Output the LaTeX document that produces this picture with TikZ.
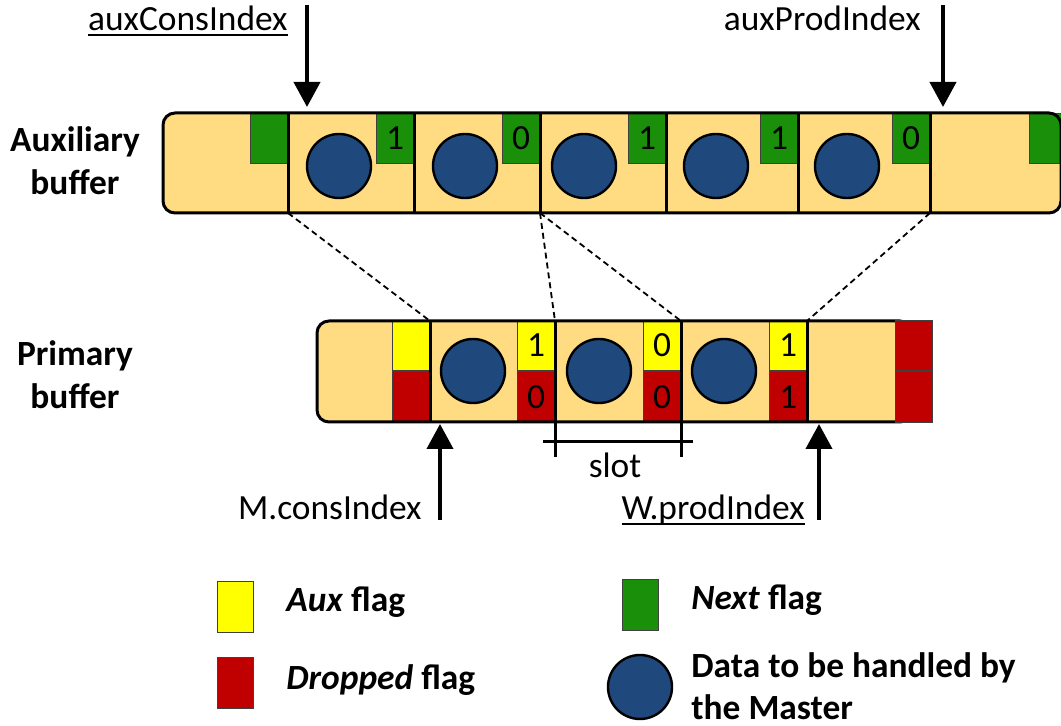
\documentclass[tikz,border=0pt]{standalone}
\usepackage{xcolor}
\usepackage{fontspec}
\setmainfont{Carlito}
\usepackage{tikz}
\usetikzlibrary{math,arrows.meta}

\definecolor{bufcol}{HTML}{FFDC82}
\definecolor{nextcol}{HTML}{1A8F0A}
\definecolor{auxcol}{HTML}{FFFF00}
\definecolor{dropcol}{HTML}{C00000}
\definecolor{datacol}{HTML}{1F497D}

\newcommand{\ulin}[1]{\sbox0{#1}\rlap{\usebox0}\rule[-2.6pt]{\wd0}{0.9pt}}

\begin{document}
\begin{tikzpicture}[x=0.5pt,y=-0.5pt,
	every node/.style={font=\fontsize{17.7}{21.5}\selectfont, inner sep=0pt},
	buf/.style={fill=bufcol, rounded corners=6pt},
	bufline/.style={draw, line width=1.5pt, rounded corners=6pt},
	divider/.style={line width=1.5pt},
	flag/.style={draw=black!75, line width=0.5pt, minimum width=18.5pt, minimum height=25pt},
	nextflag/.style={flag, fill=nextcol},
	auxflag/.style={flag, fill=auxcol},
	dropflag/.style={flag, fill=dropcol, minimum height=25.5pt},
	datum/.style={circle, draw, line width=1.2pt, fill=datacol, minimum size=32pt},
	mapline/.style={dash pattern=on 3pt off 2pt, line width=0.9pt},
	ptr/.style={line width=2pt, -{Triangle[width=13pt,length=12.5pt]}},
	side/.style={font=\fontsize{17.7}{21.5}\selectfont\bfseries, align=center},
	legend/.style={font=\fontsize{17.7}{21}\selectfont\bfseries, align=left}]
\useasboundingbox (0,0) rectangle (1061,726);
\tikzmath{
	\auxtop = 113; \auxbot = 213; \auxmid = 166;
	\pritop = 321; \pribot = 422; \primid = 371;
	% auxiliary buffer
	{\fill[buf] (163,\auxtop) rectangle (1061,\auxbot);};
	{\foreach \x/\v [count=\i] in {288/{},414/1,540/0,666/1,798/1,930/0,1067/{}}
		\node[nextflag, anchor=north east] (nf\i) at (\x,\auxtop) {\v};};
	{\draw[bufline] (163,\auxtop) rectangle (1061,\auxbot);};
	{\foreach \x [count=\i] in {288,414,540,666,798,930} {
		\coordinate (at\i) at (\x,\auxtop);
		\coordinate (ab\i) at (\x,\auxbot);
		\draw[divider] (at\i) -- (ab\i);
	};};
	{\foreach \x [count=\i] in {339,465,584,716,847}
		\node[datum] (ad\i) at (\x,\auxmid) {};};
	%
	% primary buffer
	{\fill[buf] (317,\pritop) rectangle (912,\pribot);};
	{\foreach \x/\yv/\rv [count=\i] in {430/{}/{},555/1/0,681/0/0,807/1/1} {
		\node[auxflag, anchor=south east] (af\i) at (\x,\primid) {\yv};
		\node[dropflag, anchor=north east] (df\i) at (\x,\primid) {\rv};
	};};
	{\draw[bufline] (317,\pritop) rectangle (912,\pribot);};
	{\node[dropflag, anchor=south west, minimum height=25pt] (df5) at (895,\primid) {};};
	{\node[dropflag, anchor=north west] (df6) at (895,\primid) {};};
	{\foreach \x [count=\i] in {430,555,681,807} {
		\coordinate (pt\i) at (\x,\pritop);
		\coordinate (pb\i) at (\x,\pribot);
		\draw[divider] (pt\i) -- (pb\i);
	};};
	{\foreach \x [count=\i] in {473,599,724}
		\node[datum] (pd\i) at (\x,\primid) {};};
	%
	{\draw[mapline] (ab1) -- (pt1);};
	{\draw[mapline] (ab3) -- (pt2);};
	{\draw[mapline] (ab3) -- (pt3);};
	{\draw[mapline] (ab6) -- (pt4);};
	%
	% slot
	{\path (pb2) ++(0,35) coordinate (sl1);};
	{\path (pb3) ++(0,35) coordinate (sl2);};
	{\path (pb2) ++(-12,20) coordinate (sl3);};
	{\path (pb3) ++(12,20) coordinate (sl4);};
	{\draw[divider] (pb2) -- (sl1) (pb3) -- (sl2) (sl3) -- (sl4);};
	{\node[anchor=base] (slot) at (615,478) {slot};};
	%
	% indices
	{\node[anchor=base east] (acons) at (288,31) {\ulin{auxConsIndex}};};
	{\node[anchor=base east] (aprod) at (921,31) {auxProdIndex};};
	{\node[anchor=base east] (mcons) at (422,520) {M.consIndex};};
	{\node[anchor=base east] (wprod) at (805,520) {\ulin{W.prodIndex}};};
	{\coordinate (acons0) at (307,5); \coordinate (acons1) at (307,107);};
	{\coordinate (aprod0) at (943,5); \coordinate (aprod1) at (943,107);};
	{\coordinate (mcons0) at (440,520); \coordinate (mcons1) at (440,424);};
	{\coordinate (wprod0) at (819,520); \coordinate (wprod1) at (819,424);};
	{\draw[ptr] (acons0) -- (acons1);};
	{\draw[ptr] (aprod0) -- (aprod1);};
	{\draw[ptr] (mcons0) -- (mcons1);};
	{\draw[ptr] (wprod0) -- (wprod1);};
	%
	{\node[side] (auxlbl) at (75,161) {Auxiliary\\buffer};};
	{\node[side] (prilbl) at (75,375) {Primary\\buffer};};
	%
	% legend
	{\node[auxflag, minimum width=18pt, minimum height=25.5pt, anchor=north west] (lg1) at (217,581) {};};
	{\node[dropflag, minimum width=18pt, anchor=north west] (lg2) at (217,657) {};};
	{\node[nextflag, minimum width=18pt, minimum height=25.5pt, anchor=north west] (lg3) at (622,579) {};};
	{\node[datum] (lg4) at (640,687) {};};
	{\node[legend, anchor=base west] (lt1) at (286,612) {\textit{Aux} flag};};
	{\node[legend, anchor=base west] (lt2) at (286,690) {\textit{Dropped} flag};};
	{\node[legend, anchor=base west] (lt3) at (691,610) {\textit{Next} flag};};
	{\node[legend, anchor=west] (lt4) at (691,686) {Data to be handled by\\the Master};};
};
\end{tikzpicture}
\end{document}
